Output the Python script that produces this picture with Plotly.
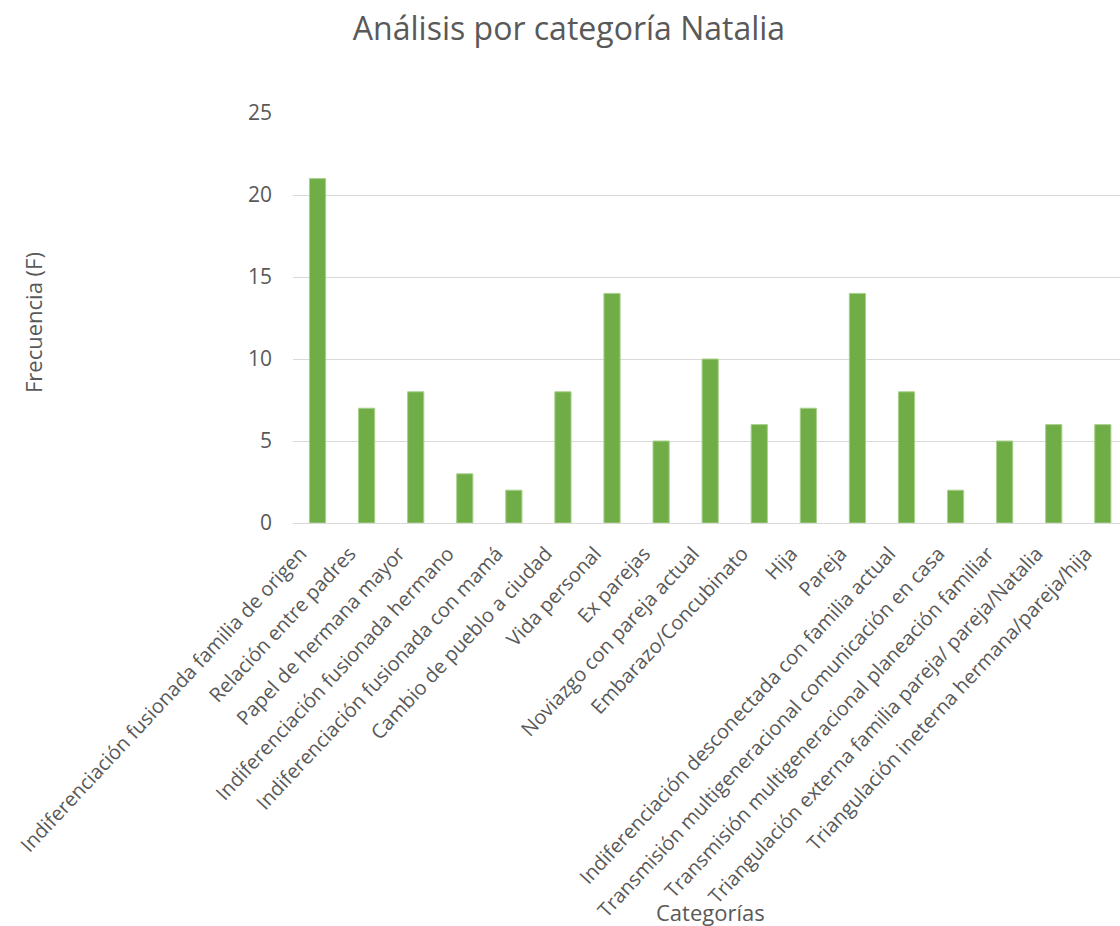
import plotly.graph_objects as go

categorias = [
    "Indiferenciación fusionada familia de origen",
    "Relación entre padres",
    "Papel de hermana mayor",
    "Indiferenciación fusionada hermano",
    "Indiferenciación fusionada con mamá",
    "Cambio de pueblo a ciudad",
    "Vida personal",
    "Ex parejas",
    "Noviazgo con pareja actual",
    "Embarazo/Concubinato",
    "Hija",
    "Pareja",
    "Indiferenciación desconectada con familia actual",
    "Transmisión multigeneracional comunicación en casa",
    "Transmisión multigeneracional planeación familiar",
    "Triangulación externa familia pareja/ pareja/Natalia",
    "Triangulación ineterna hermana/pareja/hija",
]
frecuencia = [21, 7, 8, 3, 2, 8, 14, 5, 10, 6, 7, 14, 8, 2, 5, 6, 6]
y_ticks = [0, 5, 10, 15, 20, 25]

FONT = "Open Sans"
GRAY = "#595959"

fig = go.Figure(
    go.Bar(
        x=list(range(len(categorias))),
        y=frecuencia,
        marker=dict(color="#70AD47", line=dict(color="#A9D18E", width=1)),
        hoverinfo="skip",
    )
)

fig.update_layout(
    width=1120,
    height=926,
    paper_bgcolor="white",
    plot_bgcolor="white",
    margin=dict(l=293, r=0, t=113, b=403, autoexpand=False),
    bargap=0.67,
    showlegend=False,
    font=dict(family=FONT, color=GRAY),
    title=dict(
        text="Análisis por categoría Natalia",
        x=569 / 1120,
        xanchor="center",
        y=1 - 29 / 926,
        yanchor="middle",
        font=dict(size=32, color=GRAY, family=FONT),
    ),
)

fig.update_xaxes(
    range=[-0.5, 16.35],
    tickmode="array",
    tickvals=list(range(len(categorias))),
    ticktext=categorias,
    tickangle=-47,
    tickfont=dict(size=20, color=GRAY, family=FONT),
    ticklabeloverflow="allow",
    showgrid=False,
    showline=True,
    linecolor="#D9D9D9",
    linewidth=1,
    ticks="",
    ticklabelstandoff=10,
    ticklabelshift=-17,
    automargin=False,
    fixedrange=True,
)

fig.update_yaxes(
    range=[0, 25],
    tickmode="array",
    tickvals=y_ticks,
    tickfont=dict(size=21, color=GRAY, family=FONT),
    showgrid=True,
    gridcolor="#D9D9D9",
    gridwidth=1,
    zeroline=False,
    showline=False,
    ticks="",
    ticklabelstandoff=20,
    automargin=False,
    fixedrange=True,
)

fig.add_annotation(
    text="Frecuencia (F)",
    xref="paper", yref="paper",
    x=(33 - 293) / (1120 - 293), y=(523 - 323) / (523 - 113),
    xanchor="center", yanchor="middle",
    textangle=-90, showarrow=False,
    font=dict(size=22, color=GRAY, family=FONT),
)

fig.add_annotation(
    text="Categorías",
    xref="paper", yref="paper",
    x=(710 - 293) / (1120 - 293), y=(523 - 912) / (523 - 113),
    xanchor="center", yanchor="middle",
    showarrow=False,
    font=dict(size=22, color=GRAY, family=FONT),
)

fig.write_html("out.html")
